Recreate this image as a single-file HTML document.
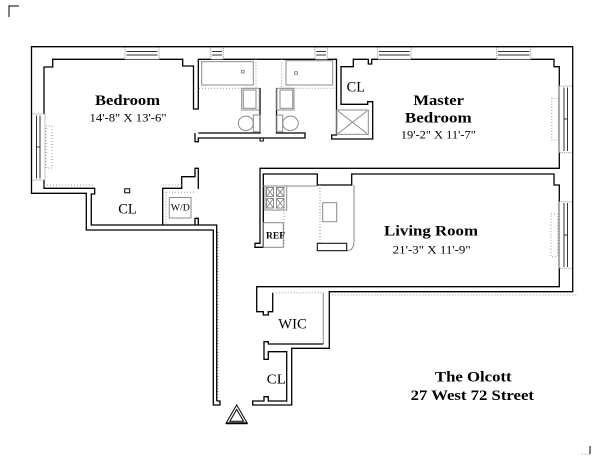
<!DOCTYPE html>
<html><head><meta charset="utf-8"><style>
html,body{margin:0;padding:0;background:#fff;}
svg{display:block}
.w{fill:none;stroke:#000;stroke-width:1.3;stroke-linejoin:miter}
.t{fill:none;stroke:#000;stroke-width:1}
.g{fill:none;stroke:#8a8a8a;stroke-width:1}
.d{fill:none;stroke:#9a9a9a;stroke-width:1;stroke-dasharray:1 2}
.win{fill:#fff;stroke:#8a8a8a;stroke-width:1;stroke-dasharray:1 1}
.wl{fill:none;stroke:#333;stroke-width:1}
text{font-family:"Liberation Serif",serif;fill:#000}
.b{font-weight:bold}
</style></head><body>
<svg width="600" height="463" viewBox="0 0 600 463" xmlns="http://www.w3.org/2000/svg">
<rect x="0" y="0" width="600" height="463" fill="#fff"/>
<!-- corner marks -->
<path class="t" d="M9,17 V6 H19"/>
<path class="t" d="M590,446 V454.3"/>
<path class="d" d="M581.7,454.3 H590"/>

<!-- inner walls main -->
<path class="w" d="M216.7,401 V225 H91.3 V194 H94.7 V188.3 H44 V67 H52.7 V59.3 H182.7 V66 H193.5 V109 H198.3 V59.3 H336.5 V135 H331.7 V139 H372.7 V101.7 H367.7 V104.3 H341 V66.7 H353.3 V59.3 H368.3 V64 H371.7 V59.3 H554 V66.7 H559.3 V168.3 H260 V243.3 H255 V247.3 H263.3 V174 H317.3 V185 H351.7 V174 H554 V185 H559.3 V286.7 H256.7 V311.7 H263.3 V315 H268.3 V311.7 H272.7 V292.7"/>
<!-- CL / W/D divider and bedroom right lower wall -->
<path class="w" d="M162.7,225 V188.3 H181.7 V176.7 H195 V168.3 H198.3 V189"/>
<path class="w" d="M195,225 V218.3 H198.3 V225"/>
<!-- bath bottom walls -->
<path class="w" d="M195,133 V141.7 H198.3 V138 H305 V133 H276.5 V88 M198.3,133 H260 V88"/>
<path class="t" d="M260,138 V141 H263.3 V138"/>

<!-- dotted / gray details -->
<path class="d" d="M44,185 H93 M162.7,185 H181.7"/>
<path class="d" d="M166,192.3 V225 M166,192.3 H195"/>
<path class="d" d="M256,59.3 V88 M281.7,59.3 V88 M199,88.3 H256 M281.7,88.3 H336"/>
<path class="d" d="M272.7,292.7 H323.3"/>
<path class="g" d="M323.3,292.7 V344"/>
<path class="d" d="M329.3,295 H577"/>
<path class="d" d="M218,232 V400"/>

<!-- bath 1 fixtures -->
<rect class="g" x="201.7" y="61.7" width="51.6" height="23.3"/>
<rect class="g" x="241.5" y="70.5" width="2.5" height="2.5"/>
<rect class="g" x="241.7" y="88.3" width="17.6" height="21.7"/>
<rect class="g" x="243.3" y="90" width="12.7" height="18.3"/>
<ellipse class="g" cx="245.8" cy="123.3" rx="7.5" ry="7.2"/>
<rect class="g" x="253.3" y="115" width="6.7" height="16.7"/>
<!-- bath 2 fixtures -->
<rect class="g" x="286" y="60.7" width="46.7" height="24.3"/>
<circle class="g" cx="296" cy="73" r="1.5"/>
<rect class="g" x="276.7" y="88.3" width="17.3" height="21.7"/>
<rect class="g" x="280" y="90" width="12.7" height="18.3"/>
<rect class="g" x="276.7" y="115" width="6" height="16.7"/>
<ellipse class="g" cx="290.5" cy="123.3" rx="7.8" ry="7.2"/>
<!-- shower -->
<rect class="g" x="336.7" y="110" width="31.6" height="24.3"/>
<path class="g" d="M338,111 L367,133.5 M367,111 L338,133.5"/>

<!-- kitchen -->
<path class="g" d="M263.3,186 H317.3"/>
<rect class="g" x="265" y="186" width="21.7" height="24"/>
<g class="g">
<rect x="266.5" y="187.5" width="7" height="9"/><path d="M266.5,187.5 L273.5,196.5 M273.5,187.5 L266.5,196.5"/>
<rect x="276.5" y="187.5" width="7.5" height="9"/><path d="M276.5,187.5 L284,196.5 M284,187.5 L276.5,196.5"/>
<rect x="266.5" y="198.5" width="7" height="9.5"/><path d="M266.5,198.5 L273.5,208 M273.5,198.5 L266.5,208"/>
<rect x="276.5" y="198.5" width="7.5" height="9.5"/><path d="M276.5,198.5 L284,208 M284,198.5 L276.5,208"/>
</g>
<path class="d" d="M284,210 V247"/>
<rect class="g" x="263.3" y="222.7" width="20" height="24.6"/>
<path class="d" d="M320,185 V243.3"/>
<path class="g" d="M354,185 V241 Q354,250.7 346.7,250.7"/>
<rect class="g" x="322.7" y="202.7" width="14" height="19"/>
<rect class="t" x="317.3" y="243.3" width="29.4" height="7.4" fill="#fff"/>

<!-- bedroom misc -->
<rect class="t" x="124.7" y="188.8" width="5" height="4" fill="#fff"/>
<rect class="g" x="169.3" y="197.5" width="21.7" height="20.5"/>

<!-- radiators -->
<rect class="d" x="46" y="126" width="6" height="42"/>
<rect class="d" x="551.7" y="98.3" width="6.6" height="41.7"/>
<rect class="d" x="551" y="214" width="6.7" height="42.7"/>

<!-- windows top -->
<g>
<rect class="win" x="125" y="46.7" width="34" height="12.6"/>
<path class="wl" d="M126.5,51.5 H157.5 M126.5,55 H157.5"/>
<rect class="win" x="210.7" y="46.7" width="12.6" height="12.6"/>
<path class="wl" d="M212,51.5 H222 M212,55 H222"/>
<rect class="win" x="315" y="46.7" width="12.3" height="12.6"/>
<path class="wl" d="M316.3,51.5 H326 M316.3,55 H326"/>
<rect class="win" x="377.7" y="46.7" width="33.3" height="12.6"/>
<path class="wl" d="M379,51.5 H409.7 M379,55 H409.7"/>
<rect class="win" x="496.7" y="46.7" width="34" height="12.6"/>
<path class="wl" d="M498,51.5 H529.4 M498,55 H529.4"/>
</g>
<!-- windows side -->
<rect class="win" x="31.5" y="114" width="13.5" height="66"/>
<path class="wl" d="M36.5,115.5 V178.5 M40,115.5 V178.5 M36.5,147 H40"/>
<rect class="win" x="559.3" y="86" width="13.4" height="66.7"/>
<path class="wl" d="M564,87.5 V151 M567.5,87.5 V151 M564,119 H567.5"/>
<rect class="win" x="559.3" y="201.7" width="13.4" height="66.6"/>
<path class="wl" d="M564,203 V267 M567.5,203 V267 M564,235 H567.5"/>

<!-- outer contour + WIC/CL -->
<path class="w" d="M323.3,344 H268.3 V341.7 H264 V359.3 H268.3 V351.7 H286.7 V401 H268.3 V396.7 H264 V401 H252.7 V405 H291.7 V348.3 H329.3 V291.7 H572.7 V46.7 H31.5 V193.3 H86.3 V230 H213.3 V405 H220 V401 H216.7"/>

<!-- entry triangle -->
<path class="t" d="M236.7,405 L226,423.3 L247.3,423.3 Z"/>
<path class="t" d="M236.7,409.5 L229.8,421.3 L243.6,421.3 Z"/>
<path d="M226,423.3 H247.3" stroke="#000" stroke-width="2"/>

<!-- labels -->
<text class="b" x="127.5" y="105" font-size="15" text-anchor="middle" textLength="65" lengthAdjust="spacingAndGlyphs">Bedroom</text>
<text x="128" y="121.7" font-size="12" text-anchor="middle" textLength="77" lengthAdjust="spacingAndGlyphs">14'-8&quot; X 13'-6&quot;</text>
<text x="127.5" y="213.3" font-size="15" text-anchor="middle" textLength="18.4" lengthAdjust="spacingAndGlyphs">CL</text>
<text x="180.3" y="210.5" font-size="9.5" text-anchor="middle" textLength="19" lengthAdjust="spacingAndGlyphs">W/D</text>
<text x="355.8" y="91.7" font-size="15" text-anchor="middle" textLength="18.3" lengthAdjust="spacingAndGlyphs">CL</text>
<text class="b" x="438.7" y="105" font-size="15" text-anchor="middle" textLength="50.7" lengthAdjust="spacingAndGlyphs">Master</text>
<text class="b" x="438.3" y="122.5" font-size="15" text-anchor="middle" textLength="66.7" lengthAdjust="spacingAndGlyphs">Bedroom</text>
<text x="438.3" y="138.3" font-size="12" text-anchor="middle" textLength="75" lengthAdjust="spacingAndGlyphs">19'-2&quot; X 11'-7&quot;</text>
<text class="b" x="431" y="235.5" font-size="15" text-anchor="middle" textLength="94" lengthAdjust="spacingAndGlyphs">Living Room</text>
<text x="431.7" y="253.3" font-size="12" text-anchor="middle" textLength="78" lengthAdjust="spacingAndGlyphs">21'-3&quot; X 11'-9&quot;</text>
<text class="b" x="275.5" y="238.3" font-size="9" text-anchor="middle" textLength="19" lengthAdjust="spacingAndGlyphs">REF</text>
<text x="292.5" y="328.3" font-size="15" text-anchor="middle" textLength="28.4" lengthAdjust="spacingAndGlyphs">WIC</text>
<text x="276.3" y="383.3" font-size="14" text-anchor="middle" textLength="19.3" lengthAdjust="spacingAndGlyphs">CL</text>
<text class="b" x="473.3" y="381.7" font-size="15" text-anchor="middle" textLength="76.7" lengthAdjust="spacingAndGlyphs">The Olcott</text>
<text class="b" x="472.3" y="400" font-size="15" text-anchor="middle" textLength="123.3" lengthAdjust="spacingAndGlyphs">27 West 72 Street</text>
</svg>
</body></html>
